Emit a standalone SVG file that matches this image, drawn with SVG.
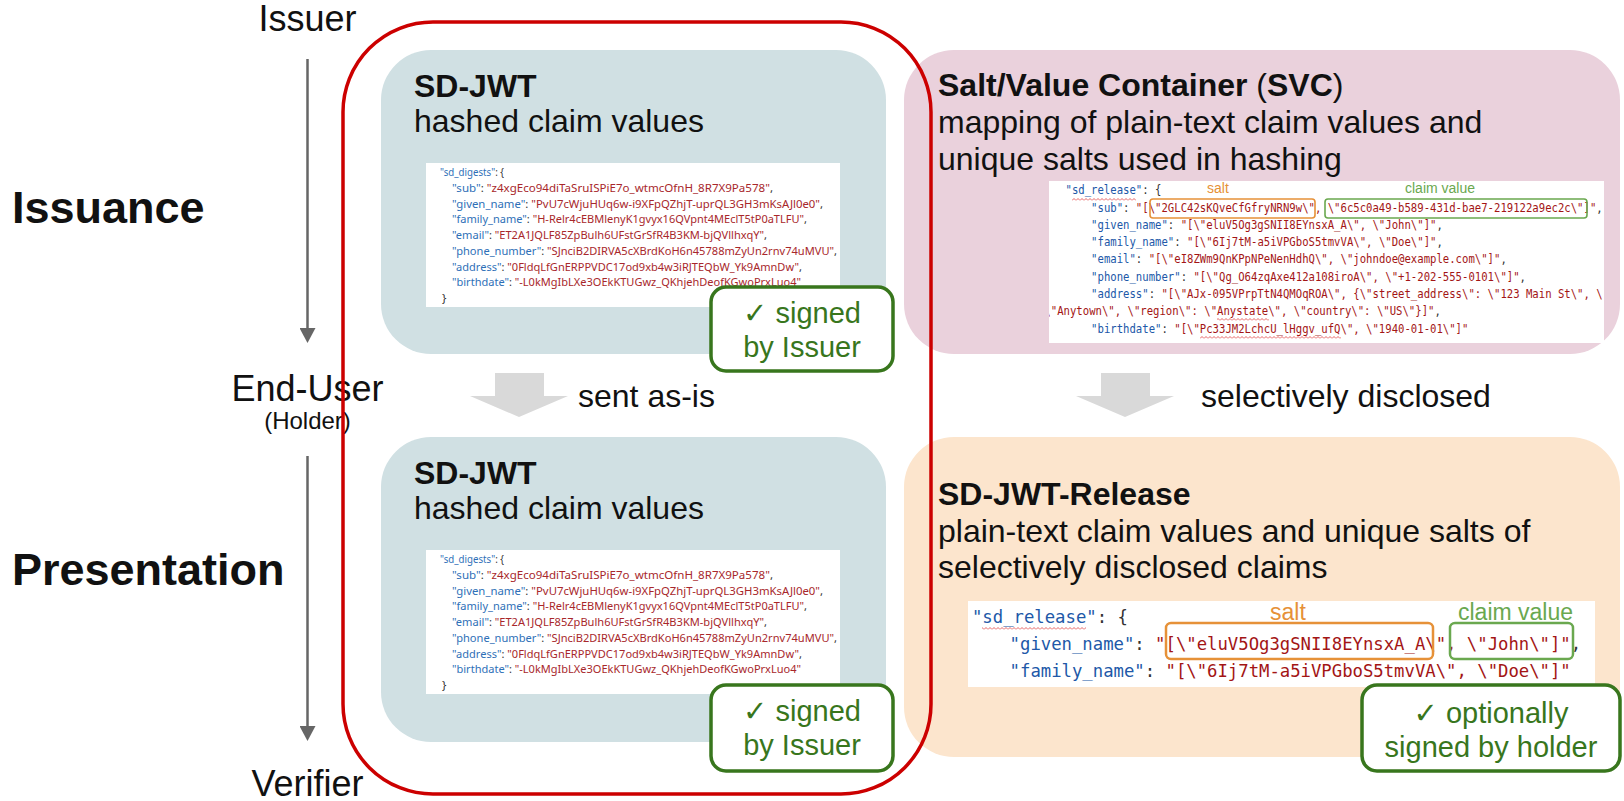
<svg xmlns="http://www.w3.org/2000/svg" width="1624" height="801" viewBox="0 0 1624 801">
  <style>
    .lbl { font-family: "Liberation Sans", Arial, "DejaVu Sans", sans-serif; fill: #111; }
    .role { font-size: 36px; text-anchor: middle; }
    .phase { font-size: 45px; font-weight: 700; }
    .title { font-size: 32px; font-weight: 700; }
    .sub { font-size: 32px; }
    .badge-box { fill: #fff; stroke: #38761d; stroke-width: 3.5; }
    .badge-txt { font-family: "Liberation Sans", "DejaVu Sans", sans-serif; font-size: 29px; fill: #38761d; text-anchor: middle; }
    .jc { font-family: "Noto Sans", "Open Sans", sans-serif; font-size: 11.5px; fill: #333; }
    .jc .k { fill: #2e6fb7; }
    .jc .v { fill: #a8272b; }
    .mono { font-family: "DejaVu Sans Mono", "Liberation Mono", monospace; fill: #333; }
    .mono .k { fill: #2158a8; }
    .mono .v { fill: #a31515; }
    .note { font-family: "Liberation Sans", "DejaVu Sans", sans-serif; }
    .salt { fill: #e69138; }
    .claim { fill: #6aa84f; }
    .salt-box { fill: none; stroke: #e69138; }
    .claim-box { fill: none; stroke: #6aa84f; }
    .thin { stroke: #666; stroke-width: 2.5; fill: none; }
    .fat { fill: #d9d9d9; }
  </style>
  <defs>
    <marker id="thin-head" viewBox="0 0 15 16" markerWidth="15" markerHeight="16" refX="2" refY="8" orient="auto" markerUnits="userSpaceOnUse">
      <path d="M0,0 L15,8 L0,16 z" fill="#666"/>
    </marker>
    <pattern id="squiggle" width="4" height="3" patternUnits="userSpaceOnUse">
      <path d="M0,2.5 L2,0.5 L4,2.5" fill="none" stroke="#e03b3b" stroke-width="0.8"/>
    </pattern>
    <path id="fat-arrow" d="M-24,0 H25 V23 H49 L0,44 L-49,23 H-24 z"/>
    <clipPath id="svc-clip"><rect x="1049" y="181" width="555" height="162"/></clipPath>
    <!-- hashed digest listing shared by both SD-JWT boxes -->
    <g id="digest-listing">
      <rect x="0" y="0" width="414" height="144" fill="#fff"/>
      <g class="jc">
        <text x="14" y="13" textLength="64" lengthAdjust="spacingAndGlyphs"><tspan class="k">"sd_digests"</tspan>: {</text>
        <text x="26" y="28.75" textLength="321" lengthAdjust="spacingAndGlyphs"><tspan class="k">"sub"</tspan>: <tspan class="v">"z4xgEco94diTaSruISPiE7o_wtmcOfnH_8R7X9Pa578"</tspan>,</text>
        <text x="26" y="44.5" textLength="371" lengthAdjust="spacingAndGlyphs"><tspan class="k">"given_name"</tspan>: <tspan class="v">"PvU7cWjuHUq6w-i9XFpQZhjT-uprQL3GH3mKsAJl0e0"</tspan>,</text>
        <text x="26" y="60.25" textLength="355" lengthAdjust="spacingAndGlyphs"><tspan class="k">"family_name"</tspan>: <tspan class="v">"H-Relr4cEBMlenyK1gvyx16QVpnt4MEclT5tP0aTLFU"</tspan>,</text>
        <text x="26" y="76" textLength="315" lengthAdjust="spacingAndGlyphs"><tspan class="k">"email"</tspan>: <tspan class="v">"ET2A1JQLF85ZpBulh6UFstGrSfR4B3KM-bjQVllhxqY"</tspan>,</text>
        <text x="26" y="91.75" textLength="385" lengthAdjust="spacingAndGlyphs"><tspan class="k">"phone_number"</tspan>: <tspan class="v">"SJnciB2DIRVA5cXBrdKoH6n45788mZyUn2rnv74uMVU"</tspan>,</text>
        <text x="26" y="107.5" textLength="350" lengthAdjust="spacingAndGlyphs"><tspan class="k">"address"</tspan>: <tspan class="v">"0FldqLfGnERPPVDC17od9xb4w3iRJTEQbW_Yk9AmnDw"</tspan>,</text>
        <text x="26" y="123.25" textLength="349" lengthAdjust="spacingAndGlyphs"><tspan class="k">"birthdate"</tspan>: <tspan class="v">"-L0kMgIbLXe3OEkKTUGwz_QKhjehDeofKGwoPrxLuo4"</tspan></text>
        <text x="16" y="139">}</text>
      </g>
    </g>
  </defs>

  <rect width="1624" height="801" fill="#fff"/>

  <!-- roles and phases -->
  <g id="role-issuer" class="lbl"><text class="role" x="307.5" y="31">Issuer</text></g>
  <g id="role-end-user" class="lbl">
    <text class="role" x="307.5" y="401">End-User</text>
    <text x="307.5" y="429" font-size="24" text-anchor="middle">(Holder)</text>
  </g>
  <g id="role-verifier" class="lbl"><text class="role" x="307.5" y="796">Verifier</text></g>
  <g id="phase-issuance" class="lbl"><text class="phase" x="12" y="223">Issuance</text></g>
  <g id="phase-presentation" class="lbl"><text class="phase" x="12" y="585">Presentation</text></g>

  <!-- SD-JWT as issued -->
  <g id="sdjwt-issued">
    <rect x="381" y="50" width="505" height="304" rx="50" fill="#d0e0e3"/>
    <text class="lbl title" x="414" y="97">SD-JWT</text>
    <text class="lbl sub" x="414" y="132">hashed claim values</text>
    <use href="#digest-listing" x="426" y="163"/>
  </g>
  <g id="badge-issued">
    <rect class="badge-box" x="711" y="287" width="182" height="84" rx="15"/>
    <text class="badge-txt" x="802" y="323">✓ signed</text>
    <text class="badge-txt" x="802" y="357">by Issuer</text>
  </g>

  <!-- SD-JWT as presented -->
  <g id="sdjwt-presented">
    <rect x="381" y="437" width="505" height="305" rx="50" fill="#d0e0e3"/>
    <text class="lbl title" x="414" y="484">SD-JWT</text>
    <text class="lbl sub" x="414" y="519">hashed claim values</text>
    <use href="#digest-listing" x="426" y="550"/>
  </g>
  <g id="badge-presented">
    <rect class="badge-box" x="711" y="685" width="182" height="86" rx="15"/>
    <text class="badge-txt" x="802" y="721">✓ signed</text>
    <text class="badge-txt" x="802" y="755">by Issuer</text>
  </g>

  <!-- Salt/Value Container -->
  <g id="svc">
    <rect x="904" y="50" width="716" height="304" rx="50" fill="#ead1dc"/>
    <text class="lbl sub" x="938" y="96"><tspan font-weight="700">Salt/Value Container </tspan>(<tspan font-weight="700">SVC</tspan>)</text>
    <text class="lbl sub" x="938" y="133">mapping of plain-text claim values and</text>
    <text class="lbl sub" x="938" y="170">unique salts used in hashing</text>
    <rect x="1049" y="181" width="555" height="162" fill="#fff"/>
    <g clip-path="url(#svc-clip)">
      <g class="mono" font-size="12.5" transform="translate(1052.7,0) scale(0.8504,1)">
        <text x="15.05" y="194.3"><tspan class="k">"sd_release"</tspan>: {</text>
        <text x="45.15" y="211.6"><tspan class="k">"sub"</tspan>: <tspan class="v">"[\"2GLC42sKQveCfGfryNRN9w\", \"6c5c0a49-b589-431d-bae7-219122a9ec2c\"]"</tspan>,</text>
        <text x="45.15" y="228.9"><tspan class="k">"given_name"</tspan>: <tspan class="v">"[\"eluV5Og3gSNII8EYnsxA_A\", \"John\"]"</tspan>,</text>
        <text x="45.15" y="246.2"><tspan class="k">"family_name"</tspan>: <tspan class="v">"[\"6Ij7tM-a5iVPGboS5tmvVA\", \"Doe\"]"</tspan>,</text>
        <text x="45.15" y="263.5"><tspan class="k">"email"</tspan>: <tspan class="v">"[\"eI8ZWm9QnKPpNPeNenHdhQ\", \"johndoe@example.com\"]"</tspan>,</text>
        <text x="45.15" y="280.8"><tspan class="k">"phone_number"</tspan>: <tspan class="v">"[\"Qg_O64zqAxe412a108iroA\", \"+1-202-555-0101\"]"</tspan>,</text>
        <text x="45.15" y="298.1"><tspan class="k">"address"</tspan>: <tspan class="v">"[\"AJx-095VPrpTtN4QMOqROA\", {\"street_address\": \"123 Main St\", \</tspan></text>
        <text x="-9.8" y="315.4"><tspan class="v">\"Anytown\", \"region\": \"Anystate\", \"country\": \"US\"}]"</tspan>,</text>
        <text x="45.15" y="332.7"><tspan class="k">"birthdate"</tspan>: <tspan class="v">"[\"Pc33JM2LchcU_lHggv_ufQ\", \"1940-01-01\"]"</tspan></text>
      </g>
    </g>
    <!-- spell-check squiggles -->
    <rect x="1072" y="198" width="64" height="3" fill="url(#squiggle)"/>
    <rect x="1217" y="318" width="52" height="3" fill="url(#squiggle)"/>
    <rect x="1200" y="336" width="141" height="3" fill="url(#squiggle)"/>
    <text class="note salt" x="1207" y="193" font-size="14">salt</text>
    <text class="note claim" x="1405" y="193" font-size="14">claim value</text>
    <rect class="salt-box" x="1150" y="199" width="165" height="19" rx="3" stroke-width="1.6"/>
    <rect class="claim-box" x="1325" y="199" width="262" height="19" rx="3" stroke-width="1.6"/>
  </g>

  <!-- SD-JWT-Release -->
  <g id="sdjwt-release">
    <rect x="904" y="437" width="716" height="320" rx="50" fill="#fce5cd"/>
    <text class="lbl title" x="938" y="505">SD-JWT-Release</text>
    <text class="lbl sub" x="938" y="542">plain-text claim values and unique salts of</text>
    <text class="lbl sub" x="938" y="578">selectively disclosed claims</text>
    <rect x="968" y="601" width="627" height="86" fill="#fff"/>
    <g class="mono" font-size="18" transform="scale(0.9598,1)">
      <text x="1012.7" y="623"><tspan class="k">"sd_release"</tspan>: {</text>
      <text x="1051.9" y="650"><tspan class="k">"given_name"</tspan>: <tspan class="v">"[\"eluV5Og3gSNII8EYnsxA_A\", \"John\"]"</tspan>,</text>
      <text x="1051.9" y="677"><tspan class="k">"family_name"</tspan>: <tspan class="v">"[\"6Ij7tM-a5iVPGboS5tmvVA\", \"Doe\"]"</tspan></text>
    </g>
    <rect x="982" y="627" width="104" height="3" fill="url(#squiggle)"/>
    <text class="note salt" x="1270" y="620" font-size="23">salt</text>
    <text class="note claim" x="1458" y="620" font-size="23">claim value</text>
    <rect class="salt-box" x="1166" y="623" width="267" height="36" rx="5" stroke-width="2.5"/>
    <rect class="claim-box" x="1450" y="623" width="123" height="36" rx="5" stroke-width="2.5"/>
  </g>
  <g id="badge-release">
    <rect class="badge-box" x="1362" y="685" width="258" height="86" rx="15"/>
    <text class="badge-txt" x="1491" y="723">✓ optionally</text>
    <text class="badge-txt" x="1491" y="757">signed by holder</text>
  </g>

  <!-- flow connectors -->
  <g id="connectors">
    <line class="thin" x1="307.5" y1="59" x2="307.5" y2="330" marker-end="url(#thin-head)"/>
    <line class="thin" x1="307.5" y1="456" x2="307.5" y2="728" marker-end="url(#thin-head)"/>
    <use href="#fat-arrow" class="fat" x="519" y="373"/>
    <text class="lbl sub" x="578" y="407">sent as-is</text>
    <use href="#fat-arrow" class="fat" x="1125" y="373"/>
    <text class="lbl sub" x="1201" y="407">selectively disclosed</text>
  </g>

  <!-- issuer-signed scope -->
  <g id="issuer-scope">
    <rect x="343" y="22" width="588" height="772" rx="90" fill="none" stroke="#cc0000" stroke-width="3.5"/>
  </g>
</svg>
